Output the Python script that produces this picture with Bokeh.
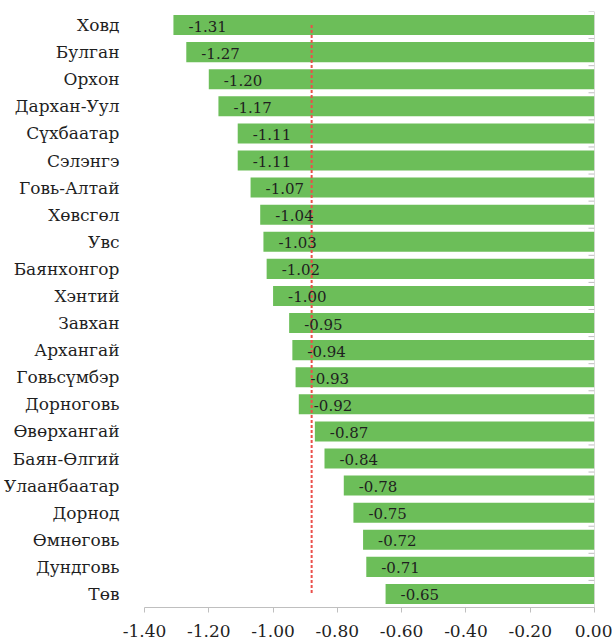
from bokeh.plotting import figure
from bokeh.models import Range1d, FixedTicker, NumeralTickFormatter, ColumnDataSource, Span
from bokeh.core.properties import value
from bokeh.embed import file_html
from bokeh.resources import INLINE

regions = ["Ховд", "Булган", "Орхон", "Дархан-Уул", "Сүхбаатар", "Сэлэнгэ",
           "Говь-Алтай", "Хөвсгөл", "Увс", "Баянхонгор", "Хэнтий", "Завхан",
           "Архангай", "Говьсүмбэр", "Дорноговь", "Өвөрхангай", "Баян-Өлгий",
           "Улаанбаатар", "Дорнод", "Өмнөговь", "Дундговь", "Төв"]
values = [-1.31, -1.27, -1.20, -1.17, -1.11, -1.11, -1.07, -1.04, -1.03, -1.02,
          -1.00, -0.95, -0.94, -0.93, -0.92, -0.87, -0.84, -0.78, -0.75, -0.72,
          -0.71, -0.65]
reference_value = -0.88
x_ticks = [-1.4, -1.2, -1.0, -0.8, -0.6, -0.4, -0.2, 0.0]

FONT = "DejaVu Serif"
TEXT = "#1f1f1f"
AXIS = "#bfbfbf"
GREEN = "#6cbe59"
RED = "#ea4f4a"

n = len(regions)
ypos = [n - 1 - i for i in range(n)]  # first region at the top
bounds = [k - 0.5 for k in range(n + 1)]

src = ColumnDataSource(dict(y=ypos, val=values, zero=[0.0] * n,
                            label=["%.2f" % v for v in values]))

p = figure(width=612, height=640, output_backend="svg", toolbar_location=None,
           y_range=Range1d(-0.5, n - 0.5), x_range=Range1d(x_ticks[0], x_ticks[-1]),
           min_border_left=142, min_border_right=18, min_border_top=11, min_border_bottom=33)
p.outline_line_color = None
p.xgrid.visible = False
p.ygrid.visible = False
p.background_fill_color = "white"

p.hbar(y="y", left="val", right="zero", height=0.74, source=src,
       fill_color=GREEN, line_color=None)

p.line(x=[reference_value, reference_value], y=[ypos[0], ypos[-1]],
       line_color=RED, line_width=2, line_dash="3 2")

p.text(x="val", y="y", text="label", source=src, x_offset=15, y_offset=1,
       text_align="left", text_baseline="middle", text_font=value(FONT),
       text_font_size="15px", text_color=TEXT)

# vertical value axis at zero with ticks between categories
p.add_layout(Span(location=0.0, dimension="height", line_color=AXIS, line_width=1))
p.ray(x=[0.0] * len(bounds), y=bounds, length=6, length_units="screen",
      angle=180, angle_units="deg", line_color=AXIS, line_width=1)

# x axis
xa = p.xaxis[0]
xa.ticker = FixedTicker(ticks=x_ticks)
xa.formatter = NumeralTickFormatter(format="0.00")
xa.axis_line_color = AXIS
xa.major_tick_line_color = AXIS
xa.major_tick_out = 5
xa.major_tick_in = 0
xa.minor_tick_line_color = None
xa.major_label_standoff = 12
xa.major_label_text_font = FONT
xa.major_label_text_font_size = "17px"
xa.major_label_text_color = TEXT

# category labels
ya = p.yaxis[0]
ya.ticker = FixedTicker(ticks=ypos)
ya.major_label_overrides = {y: r for y, r in zip(ypos, regions)}
ya.axis_line_color = None
ya.major_tick_line_color = None
ya.minor_tick_line_color = None
ya.major_label_standoff = 19
ya.major_label_text_font = FONT
ya.major_label_text_font_size = "17px"
ya.major_label_text_color = TEXT

open("out.html", "w").write(file_html(p, INLINE))
